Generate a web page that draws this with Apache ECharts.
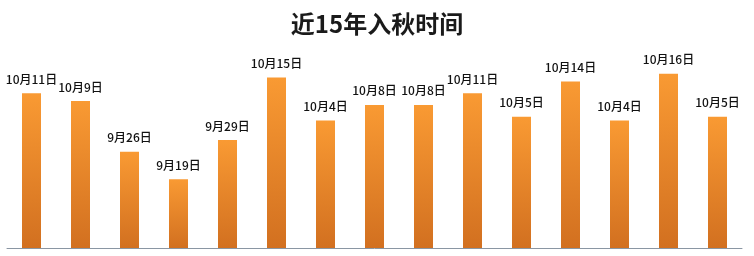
<!DOCTYPE html>
<html>
<head>
<meta charset="utf-8">
<script src="https://cdn.jsdelivr.net/npm/echarts@6/dist/echarts.min.js"></script>
<style>html,body{margin:0;padding:0;background:#fff}#c{width:754px;height:256px}</style>
</head>
<body>
<div id="c"></div>
<script>
// 入秋日期 (label) and its value: day count after Aug 31 (Sep 1 = 1)
const years = ['1','2','3','4','5','6','7','8','9','10','11','12','13','14','15'];
const dateLabels = ['10月11日','10月9日','9月26日','9月19日','9月29日','10月15日','10月4日','10月8日','10月8日','10月11日','10月5日','10月14日','10月4日','10月16日','10月5日'];
const dayValues = [41, 39, 26, 19, 29, 45, 34, 38, 38, 41, 35, 44, 34, 46, 35];
const titleText = '近15年入秋时间';

const chart = echarts.init(document.getElementById('c'));
chart.setOption({
  animation: false,
  title: {
    text: titleText, left: 'center', top: 7,
    textStyle: { fontFamily: 'Noto Sans CJK SC', fontSize: 24, fontWeight: 'bold', color: '#1a1a1a' }
  },
  grid: { left: 7, right: 12, top: 58, bottom: 8 },
  xAxis: {
    type: 'category', data: years,
    axisLine: { lineStyle: { color: '#8a96a3', width: 1 } },
    axisTick: { show: false }, axisLabel: { show: false }
  },
  yAxis: {
    type: 'value', min: 1.4, max: 50,
    show: false, splitLine: { show: false }
  },
  series: [{
    type: 'bar', barWidth: 19,
    data: dayValues.map((v, i) => ({ value: v, label: { formatter: dateLabels[i] } })),
    itemStyle: {
      color: new echarts.graphic.LinearGradient(0, 0, 0, 1, [
        { offset: 0, color: '#F99A33' },
        { offset: 1, color: '#D27020' }
      ])
    },
    label: {
      show: true, position: 'top', distance: 8,
      fontFamily: 'Noto Sans CJK SC', fontSize: 12, fontWeight: 500, color: '#111'
    }
  }]
});
</script>
</body>
</html>
